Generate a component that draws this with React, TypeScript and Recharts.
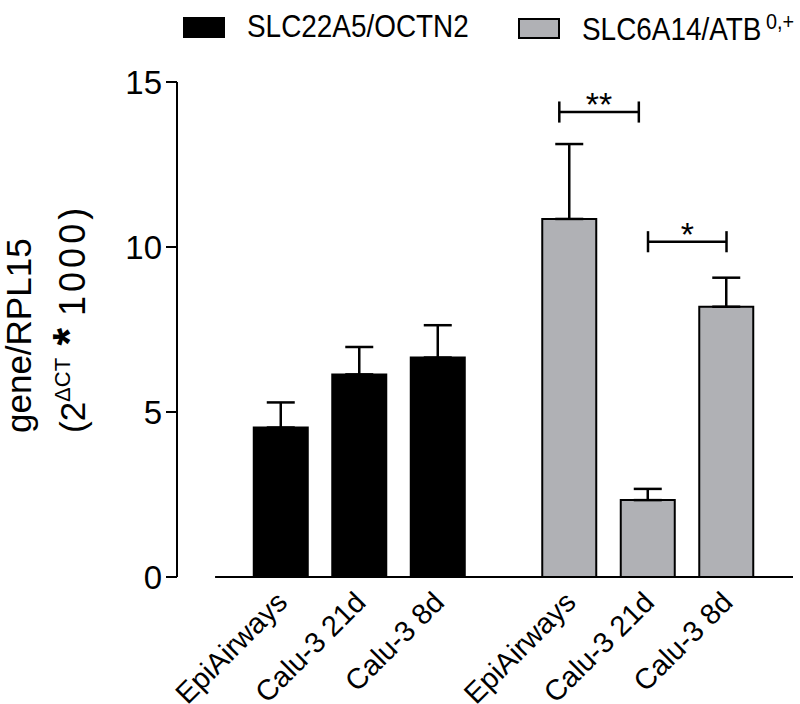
import React from "react";
import {
  BarChart,
  Bar,
  Cell,
  XAxis,
  YAxis,
  ErrorBar,
  Legend,
  ReferenceLine,
  ReferenceDot,
} from "recharts";

const FONT = "'Liberation Sans', Arial, Helvetica, sans-serif";

// transporters (legend) and their superscripts
const groups = ["SLC22A5/OCTN2", "SLC6A14/ATB"];
const groupSup = ["", "0,+"];
const groupColors = ["#000000", "#b0b1b5"];

// cell models, repeated for each transporter
const cellLines = ["EpiAirways", "Calu-3 21d", "Calu-3 8d"];

// mean and SEM, gene/RPL15 (2^dCT * 1000)
const octn2Mean = [4.53, 6.14, 6.65];
const octn2Sem = [0.76, 0.83, 0.98];
const atbMean = [10.85, 2.33, 8.19];
const atbSem = [2.27, 0.34, 0.88];

const yTicks = [0, 5, 10, 15];

// significance brackets, by bar index
const significance = [
  { from: 3, to: 4, level: 14.09, mark: "**" },
  { from: 4, to: 5, level: 10.16, mark: "*" },
];

// layout
const GROUP_GAP = 0.675;
const X_MIN = -0.325;
const X_MAX = 7.522;
const AXIS_START = 0.16;
const bracketNudge = [-0.13, 0];
const TICK_HALF = 0.32;

const means = [octn2Mean, atbMean];
const sems = [octn2Sem, atbSem];
const rows = means.flatMap((series, g) =>
  series.map((v, i) => ({
    x: g * (cellLines.length + GROUP_GAP) + i + 1,
    label: cellLines[i],
    group: g,
    value: v,
    err: [0, sems[g][i]],
  }))
);

function CategoryTick(props: any) {
  const { x, y, payload } = props;
  const row = rows.find((r) => Math.abs(r.x - payload.value) < 1e-6);
  return (
    <text
      transform={`translate(${x + 8},${y + 27}) rotate(-45)`}
      textAnchor="end"
      fontSize={29}
      fontFamily={FONT}
      fill="#000"
    >
      {row ? row.label : ""}
    </text>
  );
}

function YTitle() {
  return (
    <g fill="#000" fontFamily={FONT}>
      <text transform="translate(31,433) rotate(-90)" fontSize={35}>
        gene/RPL15
      </text>
      <text transform="translate(85,433) rotate(-90)" fontSize={35}>
        (2
        <tspan dy={-15} fontSize={22}>
          ΔCT
        </tspan>
        <tspan dy={15} dx={12} fontSize={46} fontWeight="bold">
          *
        </tspan>
        <tspan dx={12} fontSize={36} letterSpacing={4}>
          1000)
        </tspan>
      </text>
    </g>
  );
}

function GroupLegend() {
  const lefts = [183, 518];
  return (
    <div style={{ position: "relative", width: 800, height: 50, fontFamily: FONT, fontSize: 31, color: "#000" }}>
      {groups.map((name, g) => (
        <div
          key={name}
          style={{ position: "absolute", left: lefts[g], top: 9, display: "flex", alignItems: "center", whiteSpace: "nowrap" }}
        >
          <span
            style={{
              display: "inline-block",
              width: 42,
              height: 21,
              boxSizing: "border-box",
              background: groupColors[g],
              border: "2px solid #000",
              marginRight: 22,
            }}
          />
          <span style={{ display: "inline-block", transform: "scaleX(0.9)", transformOrigin: "left center" }}>
            {name}
            {groupSup[g] && (
              <sup style={{ fontSize: 22, marginLeft: 5 }}>{groupSup[g]}</sup>
            )}
          </span>
        </div>
      ))}
    </div>
  );
}

export default function App() {
  return (
    <div style={{ position: "absolute", left: 0, top: 0, width: 800, height: 704, background: "#fff" }}>
      <BarChart
        width={800}
        height={704}
        data={rows}
        margin={{ top: 82, right: 7, bottom: 27, left: 0 }}
      >
        <XAxis
          dataKey="x"
          type="number"
          domain={[X_MIN, X_MAX]}
          allowDataOverflow
          ticks={rows.map((r) => r.x)}
          interval={0}
          axisLine={false}
          tickLine={false}
          tickSize={0}
          tickMargin={0}
          height={100}
          tick={<CategoryTick />}
        />
        <YAxis
          type="number"
          domain={[0, 15]}
          ticks={yTicks}
          interval={0}
          width={177}
          tickSize={11}
          tickMargin={4}
          axisLine={{ stroke: "#000", strokeWidth: 2 }}
          tickLine={{ stroke: "#000", strokeWidth: 2 }}
          tick={{ fill: "#000", fontSize: 33, fontFamily: FONT }}
          label={<YTitle />}
        />
        <Legend
          layout="horizontal"
          verticalAlign="middle"
          align="center"
          wrapperStyle={{ top: 0, left: 0, width: 800, height: 50 }}
          content={() => <GroupLegend />}
        />
        <Bar dataKey="value" barSize={54} isAnimationActive={false}>
          {rows.map((r, i) => (
            <Cell key={i} fill={groupColors[r.group]} stroke="#000" strokeWidth={2} />
          ))}
          <ErrorBar dataKey="err" direction="y" width={14} stroke="#000" strokeWidth={2.5} />
        </Bar>
        <ReferenceLine
          segment={[{ x: AXIS_START, y: 0 }, { x: X_MAX, y: 0 }]}
          stroke="#000"
          strokeWidth={2}
        />
        {significance.map((s, k) => {
          const x1 = rows[s.from].x + bracketNudge[k];
          const x2 = rows[s.to].x + bracketNudge[k] * 0.9;
          return (
            <React.Fragment key={k}>
              <ReferenceLine segment={[{ x: x1, y: s.level }, { x: x2, y: s.level }]} stroke="#000" strokeWidth={2.5} />
              <ReferenceLine
                segment={[{ x: x1, y: s.level - TICK_HALF }, { x: x1, y: s.level + TICK_HALF }]}
                stroke="#000"
                strokeWidth={2.5}
              />
              <ReferenceLine
                segment={[{ x: x2, y: s.level - TICK_HALF }, { x: x2, y: s.level + TICK_HALF }]}
                stroke="#000"
                strokeWidth={2.5}
              />
              <ReferenceDot
                x={(x1 + x2) / 2}
                y={s.level}
                r={0}
                stroke="none"
                label={{ value: s.mark, position: "top", offset: -4, fontSize: 34, fill: "#000", fontFamily: FONT }}
              />
            </React.Fragment>
          );
        })}
      </BarChart>
    </div>
  );
}
